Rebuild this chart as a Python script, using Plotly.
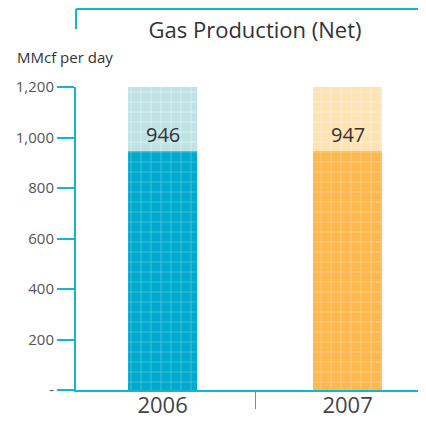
import plotly.graph_objects as go

years = ["2006", "2007"]
production = [946, 947]
scale_top = [1200, 1200]
y_ticks = [0, 200, 400, 600, 800, 1000, 1200]
y_tick_labels = ["-", "200", "400", "600", "800", "1,000", "1,200"]

dark_colors = ["#00A9CE", "#FDB84E"]
dark_lines = ["#4FC4DE", "#FDD08E"]
light_colors = ["#BFE3E5", "#FEE3B4"]
light_lines = ["#E2F2F3", "#FFF1DA"]
axis_color = "#12B5D6"
font_family = "Open Sans, Lato, sans-serif"

# the page body has an 8px margin, so the figure is laid out 8px in from the corner
W, H = 418, 414
plot_l, plot_t, plot_b = 68, 79, 382
plot_h = plot_b - plot_t

fig = go.Figure()

# one trace per bar so the grid pattern keeps its own line colour
for i, yr in enumerate(years):
    # full-scale background bar
    fig.add_trace(go.Bar(
        x=[yr], y=[scale_top[i]], width=0.373,
        marker=dict(color=light_colors[i], line=dict(width=0),
                    pattern=dict(shape="+", size=10, solidity=0.15,
                                 fgcolor=light_lines[i], fgopacity=1)),
        hoverinfo="skip", showlegend=False,
    ))
for i, yr in enumerate(years):
    # actual production bar
    fig.add_trace(go.Bar(
        x=[yr], y=[production[i]], width=0.373,
        marker=dict(color=dark_colors[i], line=dict(width=0),
                    pattern=dict(shape="+", size=10, solidity=0.15,
                                 fgcolor=dark_lines[i], fgopacity=1)),
        showlegend=False,
    ))

for i, val in enumerate(production):
    fig.add_annotation(x=i, y=val, text=str(val), showarrow=False,
                       yanchor="bottom", yshift=1,
                       font=dict(size=20, color="#333333", family=font_family))

fig.add_annotation(x=(7 - plot_l) / 350, xref="paper",
                   y=(plot_b - 49) / plot_h, yref="paper",
                   text="MMcf per day", showarrow=False,
                   xanchor="left", yanchor="middle",
                   font=dict(size=15, color="#333333", family=font_family))

# header bracket
top_y = (plot_b - 1) / plot_h
fig.add_shape(type="line", xref="paper", yref="paper",
              x0=0, x1=1.05, y0=top_y, y1=top_y,
              line=dict(color=axis_color, width=2))
fig.add_shape(type="line", xref="paper", yref="paper",
              x0=0, x1=0, y0=top_y, y1=(plot_b - 21) / plot_h,
              line=dict(color=axis_color, width=2))

fig.update_layout(
    width=W, height=H,
    margin=dict(l=plot_l, r=0, t=plot_t, b=H - plot_b),
    barmode="overlay",
    plot_bgcolor="white", paper_bgcolor="white",
    title=dict(text="Gas Production (Net)", x=247 / W, xanchor="center",
               y=1 - 22 / H, yanchor="middle",
               font=dict(size=22, color="#333333", family=font_family)),
    xaxis=dict(type="category", range=[-0.468, 1.424], showline=True,
               linecolor=axis_color, linewidth=2, ticks="outside",
               tickson="boundaries", ticklen=17, tickcolor=axis_color,
               tickwidth=1, automargin=False, ticklabelstandoff=-5,
               tickfont=dict(size=22, color="#444444", family=font_family),
               showgrid=False, zeroline=False),
    yaxis=dict(range=[0, 1200], tickvals=y_ticks, ticktext=y_tick_labels,
               showline=True, linecolor=axis_color, linewidth=2,
               ticks="outside", ticklen=17, tickcolor=axis_color, tickwidth=2,
               automargin=False,
               tickfont=dict(size=15, color="#555555", family=font_family),
               showgrid=False, zeroline=False),
)

fig.write_html("out.html")
